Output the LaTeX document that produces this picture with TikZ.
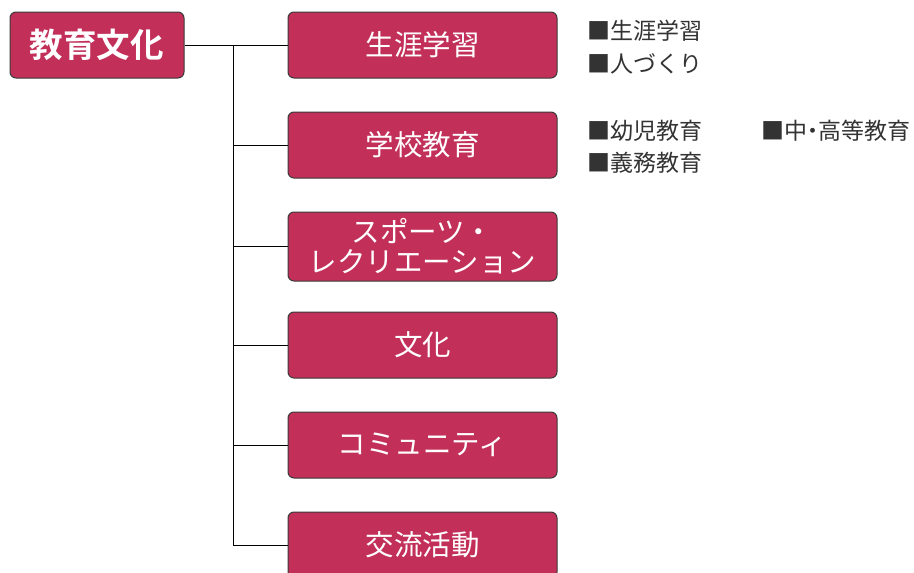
\documentclass[tikz,border=0pt]{standalone}
\usepackage{fontspec}
\setmainfont{Noto Sans CJK JP}
\newfontfamily\jpbold{Noto Sans CJK JP Bold}
\definecolor{boxred}{HTML}{C2305A}
\definecolor{edge}{HTML}{3A3A3A}
\definecolor{txt}{HTML}{333333}
\begin{document}
\begin{tikzpicture}[x=1pt,y=-1pt,
  redbox/.style={draw=edge,line width=1pt,fill=boxred,rounded corners=6pt,
    minimum width=269pt,minimum height=66pt,inner sep=0pt,text=white,
    font=\fontsize{28.5}{30}\selectfont,align=center},
  rootbox/.style={redbox,minimum width=174pt,font=\jpbold\fontsize{33.5}{36}\selectfont},
  conn/.style={draw=black,line width=1pt},
  item/.style={anchor=west,inner sep=0pt,text=txt,font=\fontsize{23}{25}\selectfont}]
\useasboundingbox (0,0) rectangle (914,573);
\node[rootbox] (root) at (97,45) {教育文化};
\node[redbox] (c1) at (422.5,45) {生涯学習};
\node[redbox] (c2) at (422.5,145) {学校教育};
\node[redbox,minimum height=69pt] (c3) at (422.5,246.5) {スポーツ・\\レクリエーション};
\node[redbox] (c4) at (422.5,345) {文化};
\node[redbox] (c5) at (422.5,445) {コミュニティ};
\node[redbox] (c6) at (422.5,545) {交流活動};
\coordinate (t0) at (233,45);
\coordinate (tb) at (233,545);
\draw[conn] (root.east) -- (c1.west);
\draw[conn] (t0) -- (tb) -- (c6.west);
\foreach \n in {c2,c3,c4,c5} { \draw[conn] (t0 |- \n.west) -- (\n.west); }
\node[item] (i1) at (587,31) {■生涯学習};
\node[item] (i2) at (587,64) {■人づくり};
\node[item] (i3) at (587,131) {■幼児教育};
\node[item] (i4) at (587,163) {■義務教育};
\node[item] (i5) at (761,131) {■中\kern-0.25em・\kern-0.25em 高等教育};
\end{tikzpicture}
\end{document}
